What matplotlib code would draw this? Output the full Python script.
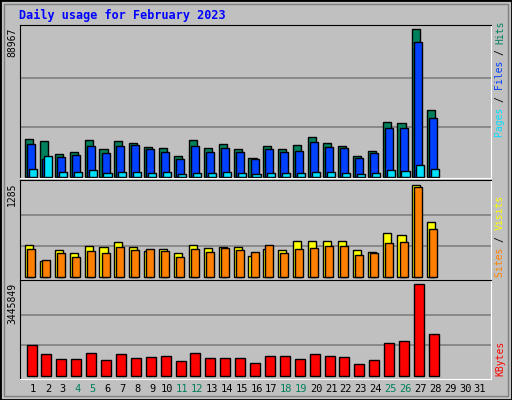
import matplotlib
matplotlib.use("Agg")
import matplotlib.pyplot as plt
from matplotlib.patches import Rectangle
import numpy as np

days = np.arange(1, 32)
weekend = [4, 5, 11, 12, 18, 19, 25, 26]
# bar heights (pixels), scaled below to the max labels
hits_px = [112, 106, 67, 73, 109, 82, 106, 100, 88, 85, 61, 109, 85, 97, 82, 55, 91, 82, 94, 118, 100, 91, 61, 76, 163, 160, 442, 199]
files_px = [97, 52, 58, 64, 91, 70, 91, 94, 82, 73, 52, 91, 73, 85, 73, 52, 82, 73, 76, 103, 88, 85, 55, 70, 145, 145, 403, 175]
pages_px = [22, 61, 13, 13, 19, 10, 13, 13, 10, 13, 7, 10, 10, 13, 10, 7, 10, 10, 10, 13, 13, 10, 7, 10, 19, 16, 34, 22]
visits_px = [94, 46, 79, 70, 91, 88, 103, 88, 76, 82, 70, 94, 85, 88, 88, 61, 82, 79, 106, 106, 106, 106, 79, 73, 130, 124, 276, 163]
sites_px = [82, 49, 70, 58, 76, 70, 88, 79, 82, 76, 58, 82, 73, 85, 79, 73, 94, 70, 82, 85, 91, 91, 64, 70, 100, 103, 268, 142]
kb_px = [91, 64, 49, 49, 67, 46, 64, 52, 55, 58, 43, 67, 52, 52, 52, 37, 58, 58, 49, 64, 58, 55, 34, 46, 97, 103, 274, 124]

hits = np.array(hits_px) / 442 * 88967
files = np.array(files_px) / 442 * 88967
pages = np.array(pages_px) / 442 * 88967
visits = np.array(visits_px) / 276 * 1285
sites = np.array(sites_px) / 276 * 1285
kbytes = np.array(kb_px) / 274 * 3445849

W, H = 512, 400
fig = plt.figure(figsize=(W / 100, H / 100), dpi=100)
fig.patch.set_facecolor('#c0c0c0')
fig.patches.append(Rectangle((0, 0), 1, 1, transform=fig.transFigure, fill=False, ec='black', lw=2))
fig.patches.append(Rectangle((4/W, 4/H), 1-8/W, 1-8/H, transform=fig.transFigure, fill=False, ec='#808080', lw=1))

mono = 'DejaVu Sans Mono'
fig.text(19/W, 1-15/H, 'Daily usage for February 2023', color='#0000ff', fontsize=8.5,
         fontweight='bold', family=mono, va='center')

x0, x1 = 20, 491
xlo = 1 - 13 / 14.9
xhi = 1 + 458 / 14.9


def panel(top, bot, base, maxpx, vmax):
    ax = fig.add_axes([x0 / W, 1 - bot / H, (x1 - x0) / W, (bot - top) / H])
    ax.set_facecolor('#c0c0c0')
    scale = vmax / (base - maxpx)
    ax.set_ylim(-(bot - base) * scale, (base - top) * scale)
    ax.set_xlim(xlo, xhi)
    for g in (vmax / 3, 2 * vmax / 3):
        ax.axhline(g, color='#808080', lw=1.2, zorder=0.5)
    ax.set_xticks([])
    ax.set_yticks([])
    for s in ax.spines.values():
        s.set_color('black')
    ax.spines['right'].set_color('white')
    ax.spines['bottom'].set_color('white')
    return ax


n = len(hits)
d = days[:n]
ax1 = panel(25, 178, 176.5, 29.3, 88967)
ax1.bar(d - 0.27, hits, width=0.54, color='#00805c', ec='black', lw=1, zorder=2)
ax1.bar(d - 0.13, files, width=0.54, color='#0040ff', ec='black', lw=1, zorder=2)
ax1.bar(d + 0.0, pages, width=0.54, color='#00e0ff', ec='black', lw=1, zorder=2)

ax2 = panel(180, 280, 276.7, 184.7, 1285)
ax2.bar(d - 0.27, visits, width=0.54, color='#ffff00', ec='black', lw=1, zorder=2)
ax2.bar(d - 0.13, sites, width=0.54, color='#ff8000', ec='black', lw=1, zorder=2)

ax3 = panel(280, 379, 375.7, 284.3, 3445849)
ax3.bar(d - 0.1, kbytes, width=0.67, color='#ff0000', ec='black', lw=1, zorder=2)

# max labels on the left
for y, lab in [(28, '88967'), (183, '1285'), (283, '3445849')]:
    fig.text(12 / W, 1 - y / H, lab, rotation=90, family=mono, fontsize=7, ha='center', va='top')

# legends on the right, read bottom to top
fs = 7
step = 0.6 * fs * 100 / 72


def right_label(ybot, parts):
    y = ybot
    for txt, col in parts:
        fig.text(500 / W, 1 - y / H, txt, rotation=90, family=mono, fontsize=fs,
                 color=col, ha='center', va='bottom')
        y -= len(txt) * step


right_label(137, [('Pages ', '#00e0ff'), ('/ ', 'black'), ('Files ', '#0040ff'),
                  ('/ ', 'black'), ('Hits', '#00805c')])
right_label(277, [('Sites ', '#ff8000'), ('/ ', 'black'), ('Visits', '#ffff00')])
right_label(376, [('KBytes', '#ff0000')])

for day in days:
    xp = x0 + (day - xlo) / (xhi - xlo) * (x1 - x0)
    fig.text(xp / W, 1 - 389 / H, str(day), family=mono, fontsize=7.5, ha='center', va='center',
             color='#00805c' if day in weekend else 'black')

fig.savefig('out.png', dpi=100, facecolor=fig.get_facecolor())
